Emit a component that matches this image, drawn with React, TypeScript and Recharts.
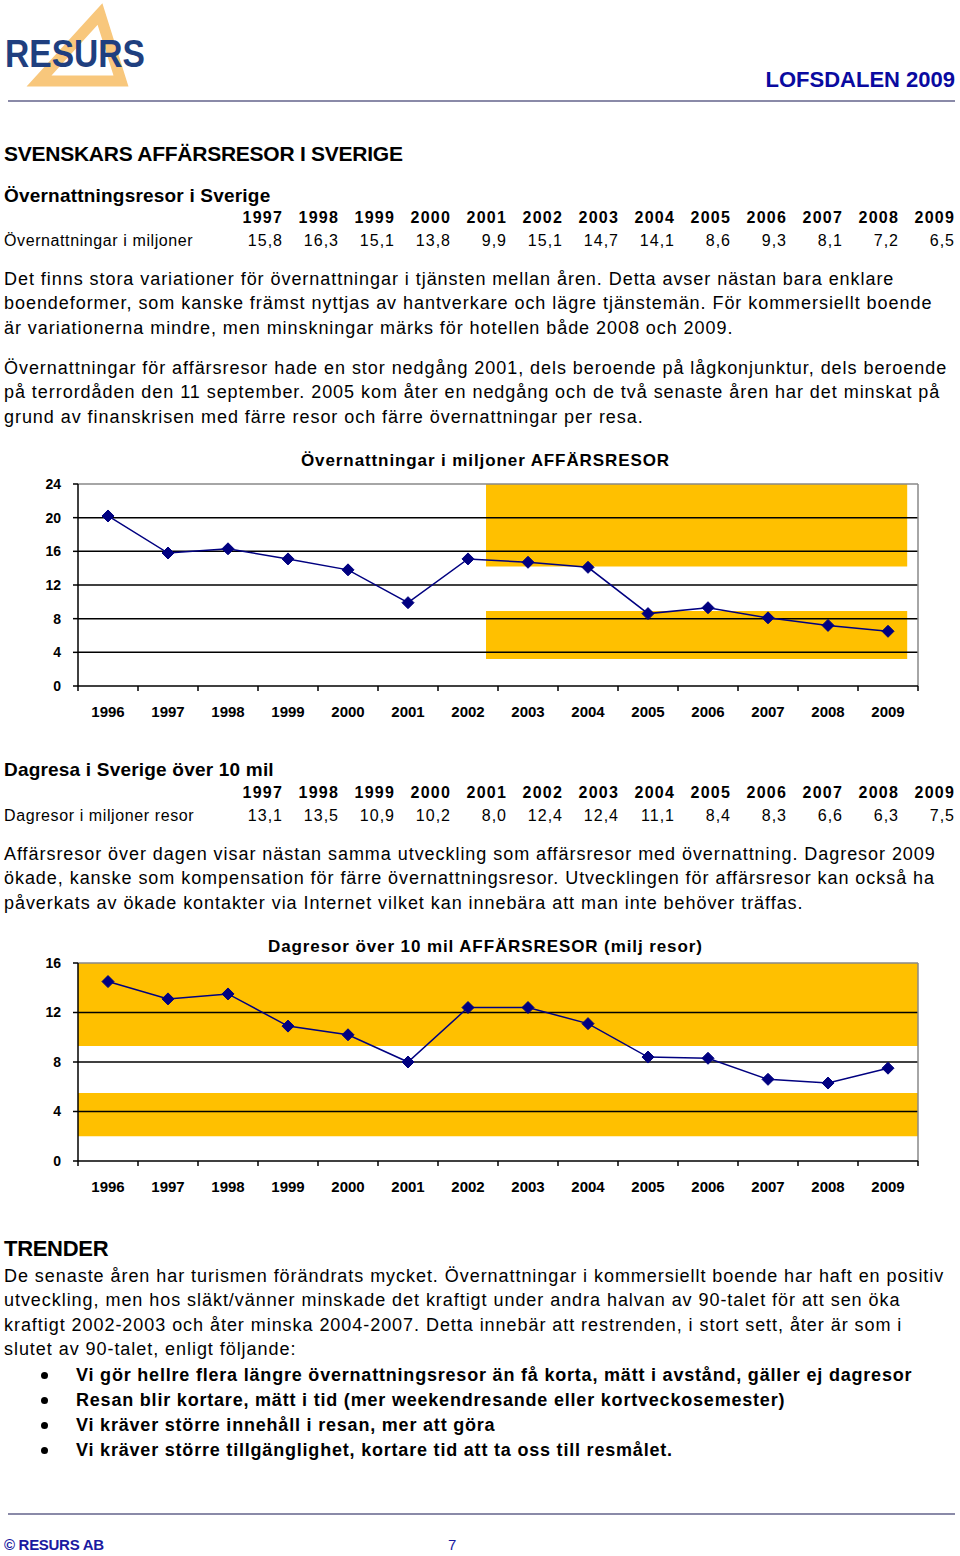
import React from "react";
import { LineChart, Line, XAxis, YAxis, ReferenceArea, ReferenceLine } from "recharts";

const years = [1996, 1997, 1998, 1999, 2000, 2001, 2002, 2003, 2004, 2005, 2006, 2007, 2008, 2009];
// 1996 is only in the chart, the tables start at 1997
const overnightTrips = [20.2, 15.8, 16.3, 15.1, 13.8, 9.9, 15.1, 14.7, 14.1, 8.6, 9.3, 8.1, 7.2, 6.5];
const dayTrips = [14.5, 13.1, 13.5, 10.9, 10.2, 8.0, 12.4, 12.4, 11.1, 8.4, 8.3, 6.6, 6.3, 7.5];
const overnightTicks = [0, 4, 8, 12, 16, 20, 24];
const dayTicks = [0, 4, 8, 12, 16];

const FONT = '"Liberation Sans", Arial, sans-serif';
const NAVY = "#000080";
const GOLD = "#FFC000";

const CHART_W = 960;
const Y_W = 78;
const RIGHT = 42;
// half a category, in px: labels sit between the boundary tick marks
const HALF = (CHART_W - Y_W - RIGHT) / years.length / 2;

const fmt = (v: number) => v.toFixed(1).replace(".", ",");

function Txt({ x, y, size = 17, bold = false, color = "#000", right, spacing = 0, children }: any) {
  const lh = Math.round(size * 1.25);
  const style: React.CSSProperties = {
    position: "absolute",
    top: y - lh / 2,
    lineHeight: lh + "px",
    fontSize: size,
    fontWeight: bold ? 700 : 400,
    color,
    fontFamily: FONT,
    whiteSpace: "nowrap",
    letterSpacing: spacing,
  };
  if (right !== undefined) style.right = 960 - right;
  else style.left = x;
  return <div style={style}>{children}</div>;
}

function Diamond(props: any) {
  const { cx, cy, index } = props;
  if (cx == null || cy == null) return <g key={index} />;
  const r = 6;
  return (
    <polygon
      key={index}
      points={`${cx},${cy - r} ${cx + r},${cy} ${cx},${cy + r} ${cx - r},${cy}`}
      fill={NAVY}
      stroke={NAVY}
    />
  );
}

function YearTick(props: any) {
  const { x, y, payload } = props;
  const year = payload.value + 0.5;
  if (year > years[years.length - 1]) return <g />;
  return (
    <text x={x + HALF} y={y + 26} textAnchor="middle" fill="#000" fontSize={15} fontWeight={700} fontFamily={FONT}>
      {year}
    </text>
  );
}

function TripChart({ values, ticks, plotTop, plotH, bands }: any) {
  const data = years.map((year, i) => ({ year, value: values[i] }));
  const yMax = ticks[ticks.length - 1];
  const bounds = years.map((y) => y - 0.5).concat(years[years.length - 1] + 0.5);
  const domain = [bounds[0], bounds[bounds.length - 1]];
  const top = 20;
  return (
    <div style={{ position: "absolute", left: 0, top: plotTop - top }}>
      <LineChart width={CHART_W} height={top + plotH + 40} data={data} margin={{ top, right: RIGHT, left: 0, bottom: 0 }}>
        <XAxis
          dataKey="year"
          type="number"
          domain={domain}
          allowDataOverflow
          ticks={bounds}
          interval={0}
          height={40}
          axisLine={{ stroke: "#000", strokeWidth: 1.5 }}
          tickLine={{ stroke: "#000", strokeWidth: 1.5 }}
          tickSize={5}
          tickMargin={0}
          tick={YearTick}
        />
        <YAxis
          type="number"
          domain={[0, yMax]}
          ticks={ticks}
          interval={0}
          width={Y_W}
          axisLine={{ stroke: "#000", strokeWidth: 1.5 }}
          tickLine={{ stroke: "#000", strokeWidth: 1.5 }}
          tickSize={5}
          tickMargin={12}
          tick={{ fill: "#000", fontSize: 14, fontWeight: 700, fontFamily: FONT }}
        />
        {bands.map((b: any, i: number) => (
          <ReferenceArea
            key={i}
            x1={b.x1}
            x2={b.x2}
            y1={b.y1}
            y2={b.y2}
            fill={GOLD}
            fillOpacity={1}
            stroke="none"
            ifOverflow="hidden"
          />
        ))}
        {ticks.slice(1, -1).map((t: number) => (
          <ReferenceLine key={t} y={t} stroke="#000" strokeWidth={1.5} />
        ))}
        <ReferenceLine y={yMax} stroke="#888" strokeWidth={1.5} />
        <ReferenceLine x={domain[1]} stroke="#888" strokeWidth={1.5} />
        <Line type="linear" dataKey="value" stroke={NAVY} strokeWidth={1.5} dot={Diamond} isAnimationActive={false} />
      </LineChart>
    </div>
  );
}

function YearTable({ y, label, values }: any) {
  const tableYears = years.slice(1);
  return (
    <>
      {tableYears.map((yr, i) => (
        <Txt key={yr} right={283 + 56 * i} y={y} size={16} bold spacing={1.2}>
          {yr}
        </Txt>
      ))}
      <Txt x={4} y={y + 23} size={16} spacing={0.6}>
        {label}
      </Txt>
      {values.slice(1).map((v: number, i: number) => (
        <Txt key={i} right={283 + 56 * i} y={y + 23} size={16} spacing={1}>
          {fmt(v)}
        </Txt>
      ))}
    </>
  );
}

const para = (lines: string[], y0: number, step = 24.5) =>
  lines.map((l, i) => (
    <Txt key={l} x={4} y={y0 + i * step} size={18} spacing={0.95}>
      {l}
    </Txt>
  ));

export default function App() {
  return (
    <div style={{ position: "absolute", left: 0, top: 0, width: 960, height: 1556, background: "#fff", overflow: "hidden" }}>
      <svg width={200} height={100} style={{ position: "absolute", left: 0, top: 0 }}>
        <polygon points="100,14 39,81 121,81" fill="none" stroke="#F8C77C" strokeWidth={11} strokeLinejoin="miter" />
        <text x={5} y={67} fontFamily={FONT} fontWeight={700} fontSize={38} fill="#1F3F7F" textLength={140} lengthAdjust="spacingAndGlyphs">
          RESURS
        </text>
      </svg>
      <Txt right={955} y={80} size={22} bold color="#0A0AA0">
        LOFSDALEN 2009
      </Txt>
      <div style={{ position: "absolute", left: 8, top: 100, width: 947, height: 2, background: "#8A8AA8" }} />

      <Txt x={4} y={154} size={21} bold spacing={-0.25}>
        SVENSKARS AFFÄRSRESOR I SVERIGE
      </Txt>
      <Txt x={4} y={196} size={19} bold spacing={0.2}>
        Övernattningsresor i Sverige
      </Txt>
      <YearTable y={218} label="Övernattningar i miljoner" values={overnightTrips} />

      {para(
        [
          "Det finns stora variationer för övernattningar i tjänsten mellan åren. Detta avser nästan bara enklare",
          "boendeformer, som kanske främst nyttjas av hantverkare och lägre tjänstemän. För kommersiellt boende",
          "är variationerna mindre, men minskningar märks för hotellen både 2008 och 2009.",
        ],
        279
      )}
      {para(
        [
          "Övernattningar för affärsresor hade en stor nedgång 2001, dels beroende på lågkonjunktur, dels beroende",
          "på terrordåden den 11 september. 2005 kom åter en nedgång och de två senaste åren har det minskat på",
          "grund av finanskrisen med färre resor och färre övernattningar per resa.",
        ],
        368
      )}

      <Txt x={301} y={460} size={17} bold spacing={0.9}>
        Övernattningar i miljoner AFFÄRSRESOR
      </Txt>
      <TripChart
        values={overnightTrips}
        ticks={overnightTicks}
        plotTop={484}
        plotH={202}
        bands={[
          { x1: 2002.3, x2: 2009.32, y1: 14.2, y2: 24 },
          { x1: 2002.3, x2: 2009.32, y1: 3.2, y2: 8.9 },
        ]}
      />

      <Txt x={4} y={770} size={19} bold spacing={0.2}>
        Dagresa i Sverige över 10 mil
      </Txt>
      <YearTable y={793} label="Dagresor i miljoner resor" values={dayTrips} />

      {para(
        [
          "Affärsresor över dagen visar nästan samma utveckling som affärsresor med övernattning. Dagresor 2009",
          "ökade, kanske som kompensation för färre övernattningsresor. Utvecklingen för affärsresor kan också ha",
          "påverkats av ökade kontakter via Internet vilket kan innebära att man inte behöver träffas.",
        ],
        854
      )}

      <Txt x={268} y={946} size={17} bold spacing={0.9}>
        Dagresor över 10 mil AFFÄRSRESOR (milj resor)
      </Txt>
      <TripChart
        values={dayTrips}
        ticks={dayTicks}
        plotTop={963}
        plotH={198}
        bands={[
          { x1: 1995.5, x2: 2009.5, y1: 9.3, y2: 16 },
          { x1: 1995.5, x2: 2009.5, y1: 2.0, y2: 5.5 },
        ]}
      />

      <Txt x={4} y={1249} size={22} bold spacing={-0.3}>
        TRENDER
      </Txt>
      {para(
        [
          "De senaste åren har turismen förändrats mycket. Övernattningar i kommersiellt boende har haft en positiv",
          "utveckling, men hos släkt/vänner minskade det kraftigt under andra halvan av 90-talet för att sen öka",
          "kraftigt 2002-2003 och åter minska 2004-2007. Detta innebär att restrenden, i stort sett, åter är som i",
          "slutet av 90-talet, enligt följande:",
        ],
        1276
      )}
      {[
        "Vi gör hellre flera längre övernattningsresor än få korta, mätt i avstånd, gäller ej dagresor",
        "Resan blir kortare, mätt i tid (mer weekendresande eller kortveckosemester)",
        "Vi kräver större innehåll i resan, mer att göra",
        "Vi kräver större tillgänglighet, kortare tid att ta oss till resmålet.",
      ].map((b, i) => (
        <React.Fragment key={b}>
          <div
            style={{ position: "absolute", left: 41, top: 1375 + i * 25.3 - 3.5, width: 7, height: 7, borderRadius: 4, background: "#000" }}
          />
          <Txt x={76} y={1375 + i * 25.3} size={18} bold spacing={0.8}>
            {b}
          </Txt>
        </React.Fragment>
      ))}

      <div style={{ position: "absolute", left: 8, top: 1513, width: 947, height: 2, background: "#8A8AA8" }} />
      <Txt x={4} y={1544} size={15} bold color="#1A1AA0" spacing={-0.3}>
        © RESURS  AB
      </Txt>
      <Txt x={448} y={1544} size={15} color="#1A1AA0">
        7
      </Txt>
    </div>
  );
}
